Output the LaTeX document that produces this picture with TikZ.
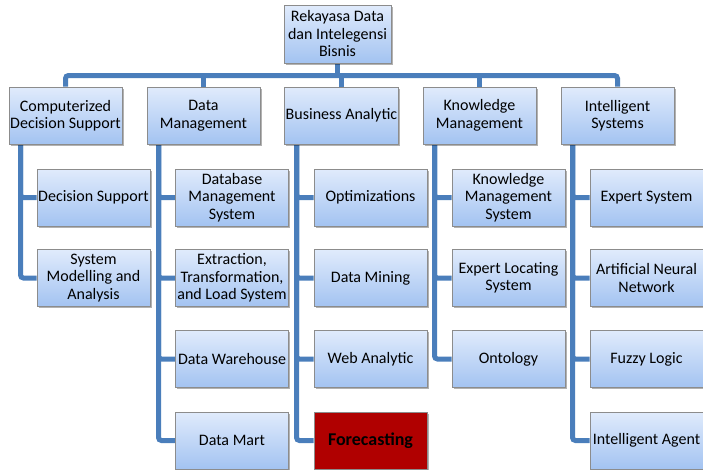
\documentclass[tikz,border=0pt]{standalone}
\usepackage{fontspec}
\setmainfont{Carlito}
\usepackage{tikz}
\usetikzlibrary{shadows,backgrounds}

\definecolor{linkblue}{HTML}{4A7EBB}
\definecolor{boxtop}{HTML}{E0EBFC}
\definecolor{boxbottom}{HTML}{A3C3F1}
\definecolor{boxline}{HTML}{8C8C8C}
\definecolor{hotred}{HTML}{B00000}

\tikzset{
    box/.style={rectangle, draw=boxline, line width=0.9pt, top color=boxtop, bottom color=boxbottom,
        minimum width=113, minimum height=57, inner sep=1pt, align=center,
        font=\fontsize{16}{17.5}\selectfont,
        drop shadow={fill=black, opacity=0.3, shadow xshift=1.5pt, shadow yshift=-1.5pt}},
    hot/.style={box, top color=hotred, bottom color=hotred, font=\fontsize{18}{18}\selectfont\bfseries},
    link/.style={draw=linkblue, line width=5pt, rounded corners=3pt}
}

\begin{document}
\begin{tikzpicture}[x=1pt, y=-1pt]
        \useasboundingbox (0,0) rectangle (703,469);

        \node[box, minimum width=107, minimum height=58] at (337.5, 34) (rdib) {Rekayasa Data\\dan Intelegensi\\Bisnis};

        \node[box] at (65.5, 115.5) (cds) {Computerized\\Decision Support};
        \node[box] at (203.5, 115.5) (dm) {Data\\Management};
        \node[box] at (341.5, 115.5) (ba) {Business Analytic};
        \node[box] at (479.5, 115.5) (km) {Knowledge\\Management};
        \node[box] at (617.5, 115.5) (is) {Intelligent\\Systems};

        \node[box] at (93.5, 197.5) (ds) {Decision Support};
        \node[box] at (93.5, 278) (sma) {System\\Modelling and\\Analysis};

        \node[box] at (232, 197.5) (dbms) {Database\\Management\\System};
        \node[box] at (232, 278) (etl) {Extraction,\\Transformation,\\and Load System};
        \node[box] at (232, 359) (dw) {Data Warehouse};
        \node[box] at (232, 440.5) (dmart) {Data Mart};

        \node[box] at (370.5, 197.5) (opt) {Optimizations};
        \node[box] at (370.5, 278) (dmin) {Data Mining};
        \node[box] at (370.5, 359) (wa) {Web Analytic};
        \node[hot] at (370.5, 440.5) (fc) {Forecasting};

        \node[box] at (508.5, 197.5) (kms) {Knowledge\\Management\\System};
        \node[box] at (508.5, 278) (els) {Expert Locating\\System};
        \node[box] at (508.5, 359) (onto) {Ontology};

        \node[box] at (646.5, 197.5) (es) {Expert System};
        \node[box] at (646.5, 278) (ann) {Artificial Neural\\Network};
        \node[box] at (646.5, 359) (fl) {Fuzzy Logic};
        \node[box] at (646.5, 440.5) (ia) {Intelligent Agent};

        \coordinate (barL) at (65.5, 75.5);
        \coordinate (barR) at (617.5, 75.5);
        \coordinate (railcds) at (20.5, 140);
        \coordinate (raildm) at (158.5, 140);
        \coordinate (railba) at (296.5, 140);
        \coordinate (railkm) at (434.5, 140);
        \coordinate (railis) at (572.5, 140);

        \begin{scope}[on background layer]
        \draw[link] (cds.north) -- (barL) -- (barR) -- (is.north);
        \draw[link] (rdib) -- (rdib |- barL);
        \draw[link] (dm.north) -- (dm.north |- barL);
        \draw[link] (ba.north) -- (ba.north |- barL);
        \draw[link] (km.north) -- (km.north |- barL);

        \draw[link] (railcds) |- (ds.west);
        \draw[link] (railcds) |- (sma.west);

        \draw[link] (raildm) |- (dbms.west);
        \draw[link] (raildm) |- (etl.west);
        \draw[link] (raildm) |- (dw.west);
        \draw[link] (raildm) |- (dmart.west);

        \draw[link] (railba) |- (opt.west);
        \draw[link] (railba) |- (dmin.west);
        \draw[link] (railba) |- (wa.west);
        \draw[link] (railba) |- (fc.west);

        \draw[link] (railkm) |- (kms.west);
        \draw[link] (railkm) |- (els.west);
        \draw[link] (railkm) |- (onto.west);

        \draw[link] (railis) |- (es.west);
        \draw[link] (railis) |- (ann.west);
        \draw[link] (railis) |- (fl.west);
        \draw[link] (railis) |- (ia.west);
        \end{scope}
    \end{tikzpicture}
\end{document}
